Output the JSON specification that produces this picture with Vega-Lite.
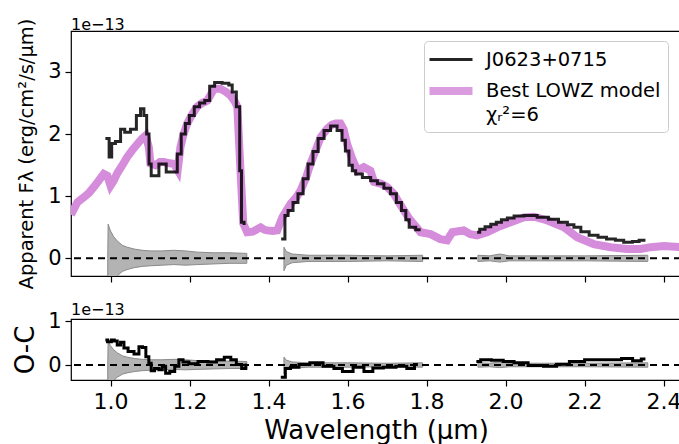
{
  "$schema": "https://vega.github.io/schema/vega-lite/v6.json",
  "padding": {"left": 12, "top": 14, "right": 0, "bottom": 0},
  "background": "white",
  "datasets": {
    "model": [
      {"w":0.900,"f":0.70},{"w":0.903,"f":0.74},{"w":0.916,"f":0.90},{"w":0.932,"f":0.98},{"w":0.945,"f":1.05},
      {"w":0.958,"f":1.15},{"w":0.970,"f":1.25},{"w":0.983,"f":1.36},{"w":0.992,"f":1.33},{"w":1.000,"f":1.17},
      {"w":1.008,"f":1.25},{"w":1.017,"f":1.37},{"w":1.030,"f":1.50},{"w":1.042,"f":1.63},{"w":1.055,"f":1.74},
      {"w":1.068,"f":1.84},{"w":1.080,"f":1.93},{"w":1.089,"f":1.98},{"w":1.097,"f":1.79},{"w":1.101,"f":1.53},
      {"w":1.114,"f":1.50},{"w":1.125,"f":1.55},{"w":1.135,"f":1.55},{"w":1.150,"f":1.53},{"w":1.161,"f":1.52},
      {"w":1.170,"f":1.42},{"w":1.177,"f":1.79},{"w":1.185,"f":2.00},{"w":1.194,"f":2.17},{"w":1.205,"f":2.30},
      {"w":1.219,"f":2.44},{"w":1.232,"f":2.50},{"w":1.245,"f":2.54},{"w":1.255,"f":2.65},{"w":1.262,"f":2.73},
      {"w":1.278,"f":2.73},{"w":1.292,"f":2.68},{"w":1.304,"f":2.62},{"w":1.315,"f":2.52},{"w":1.321,"f":2.44},
      {"w":1.329,"f":1.41},{"w":1.336,"f":0.56},{"w":1.346,"f":0.42},{"w":1.360,"f":0.43},{"w":1.371,"f":0.47},
      {"w":1.380,"f":0.50},{"w":1.390,"f":0.46},{"w":1.397,"f":0.45},{"w":1.410,"f":0.44},{"w":1.422,"f":0.45},
      {"w":1.435,"f":0.66},{"w":1.456,"f":0.88},{"w":1.470,"f":0.98},{"w":1.481,"f":1.09},{"w":1.495,"f":1.30},
      {"w":1.506,"f":1.52},{"w":1.520,"f":1.75},{"w":1.532,"f":1.95},{"w":1.549,"f":2.09},{"w":1.560,"f":2.15},
      {"w":1.570,"f":2.17},{"w":1.582,"f":2.17},{"w":1.590,"f":2.08},{"w":1.599,"f":1.84},{"w":1.612,"f":1.60},
      {"w":1.625,"f":1.41},{"w":1.641,"f":1.47},{"w":1.658,"f":1.41},{"w":1.667,"f":1.23},{"w":1.685,"f":1.20},
      {"w":1.700,"f":1.15},{"w":1.717,"f":1.04},{"w":1.730,"f":0.90},{"w":1.743,"f":0.77},{"w":1.755,"f":0.65},
      {"w":1.768,"f":0.55},{"w":1.785,"f":0.42},{"w":1.810,"f":0.39},{"w":1.835,"f":0.31},{"w":1.852,"f":0.29},
      {"w":1.865,"f":0.42},{"w":1.894,"f":0.45},{"w":1.911,"f":0.39},{"w":1.928,"f":0.37},{"w":1.953,"f":0.42},
      {"w":1.979,"f":0.50},{"w":2.013,"f":0.58},{"w":2.046,"f":0.66},{"w":2.072,"f":0.67},{"w":2.106,"f":0.61},
      {"w":2.148,"f":0.50},{"w":2.181,"f":0.34},{"w":2.223,"f":0.23},{"w":2.266,"f":0.18},{"w":2.308,"f":0.15},
      {"w":2.342,"f":0.15},{"w":2.367,"f":0.18},{"w":2.401,"f":0.20},{"w":2.444,"f":0.18}
    ],
    "obs": [
      {"seg":1,"w":0.987,"f":1.93},{"seg":1,"w":0.996,"f":1.93},{"seg":1,"w":0.997,"f":1.63},{"seg":1,"w":1.002,"f":1.63},
      {"seg":1,"w":1.004,"f":1.85},{"seg":1,"w":1.021,"f":1.88},{"seg":1,"w":1.030,"f":2.08},{"seg":1,"w":1.042,"f":2.03},
      {"seg":1,"w":1.059,"f":2.08},{"seg":1,"w":1.072,"f":2.30},{"seg":1,"w":1.080,"f":2.41},{"seg":1,"w":1.089,"f":2.30},
      {"seg":1,"w":1.094,"f":2.00},{"seg":1,"w":1.101,"f":1.52},{"seg":1,"w":1.105,"f":1.33},{"seg":1,"w":1.118,"f":1.33},
      {"seg":1,"w":1.127,"f":1.52},{"seg":1,"w":1.139,"f":1.52},{"seg":1,"w":1.143,"f":1.39},{"seg":1,"w":1.165,"f":1.39},
      {"seg":1,"w":1.173,"f":1.68},{"seg":1,"w":1.185,"f":2.00},{"seg":1,"w":1.194,"f":2.17},{"seg":1,"w":1.205,"f":2.30},
      {"seg":1,"w":1.219,"f":2.44},{"seg":1,"w":1.232,"f":2.50},{"seg":1,"w":1.245,"f":2.54},{"seg":1,"w":1.257,"f":2.77},
      {"seg":1,"w":1.270,"f":2.83},{"seg":1,"w":1.295,"f":2.82},{"seg":1,"w":1.304,"f":2.79},{"seg":1,"w":1.312,"f":2.68},
      {"seg":1,"w":1.325,"f":2.44},{"seg":1,"w":1.329,"f":1.41},{"seg":1,"w":1.334,"f":0.58},{"seg":1,"w":1.342,"f":0.56},
      {"seg":2,"w":1.432,"f":0.31},{"seg":2,"w":1.440,"f":0.31},{"seg":2,"w":1.443,"f":0.69},{"seg":2,"w":1.456,"f":0.77},
      {"seg":2,"w":1.468,"f":0.90},{"seg":2,"w":1.481,"f":1.04},{"seg":2,"w":1.494,"f":1.28},{"seg":2,"w":1.506,"f":1.52},
      {"seg":2,"w":1.519,"f":1.72},{"seg":2,"w":1.532,"f":1.93},{"seg":2,"w":1.549,"f":2.06},{"seg":2,"w":1.565,"f":2.13},
      {"seg":2,"w":1.582,"f":2.06},{"seg":2,"w":1.590,"f":1.90},{"seg":2,"w":1.599,"f":1.73},{"seg":2,"w":1.608,"f":1.50},
      {"seg":2,"w":1.616,"f":1.41},{"seg":2,"w":1.625,"f":1.36},{"seg":2,"w":1.650,"f":1.30},{"seg":2,"w":1.667,"f":1.25},
      {"seg":2,"w":1.684,"f":1.20},{"seg":2,"w":1.700,"f":1.13},{"seg":2,"w":1.717,"f":1.04},{"seg":2,"w":1.730,"f":0.90},
      {"seg":2,"w":1.743,"f":0.77},{"seg":2,"w":1.752,"f":0.62},{"seg":2,"w":1.760,"f":0.50},{"seg":2,"w":1.785,"f":0.46},
      {"seg":3,"w":1.928,"f":0.42},{"seg":3,"w":1.941,"f":0.47},{"seg":3,"w":1.955,"f":0.51},{"seg":3,"w":1.970,"f":0.55},
      {"seg":3,"w":1.983,"f":0.58},{"seg":3,"w":1.996,"f":0.62},{"seg":3,"w":2.013,"f":0.65},{"seg":3,"w":2.030,"f":0.68},
      {"seg":3,"w":2.063,"f":0.69},{"seg":3,"w":2.097,"f":0.66},{"seg":3,"w":2.120,"f":0.63},{"seg":3,"w":2.148,"f":0.58},
      {"seg":3,"w":2.165,"f":0.54},{"seg":3,"w":2.181,"f":0.50},{"seg":3,"w":2.200,"f":0.43},{"seg":3,"w":2.223,"f":0.37},
      {"seg":3,"w":2.245,"f":0.34},{"seg":3,"w":2.266,"f":0.31},{"seg":3,"w":2.290,"f":0.29},{"seg":3,"w":2.308,"f":0.26},
      {"seg":3,"w":2.334,"f":0.27},{"seg":3,"w":2.342,"f":0.29},{"seg":3,"w":2.354,"f":0.29}
    ],
    "err": [
      {"seg":1,"w":0.993,"lo":-0.70,"hi":0.00},{"seg":1,"w":0.994,"lo":-0.60,"hi":0.55},{"seg":1,"w":1.000,"lo":-0.45,"hi":0.44},
      {"seg":1,"w":1.008,"lo":-0.35,"hi":0.35},{"seg":1,"w":1.017,"lo":-0.28,"hi":0.28},{"seg":1,"w":1.030,"lo":-0.21,"hi":0.21},
      {"seg":1,"w":1.042,"lo":-0.18,"hi":0.18},{"seg":1,"w":1.060,"lo":-0.15,"hi":0.15},{"seg":1,"w":1.080,"lo":-0.13,"hi":0.13},
      {"seg":1,"w":1.100,"lo":-0.12,"hi":0.12},{"seg":1,"w":1.130,"lo":-0.11,"hi":0.12},{"seg":1,"w":1.160,"lo":-0.10,"hi":0.13},
      {"seg":1,"w":1.190,"lo":-0.11,"hi":0.12},{"seg":1,"w":1.220,"lo":-0.10,"hi":0.10},{"seg":1,"w":1.260,"lo":-0.09,"hi":0.09},
      {"seg":1,"w":1.300,"lo":-0.08,"hi":0.09},{"seg":1,"w":1.345,"lo":-0.08,"hi":0.08},
      {"seg":2,"w":1.439,"lo":-0.20,"hi":0.18},{"seg":2,"w":1.445,"lo":-0.11,"hi":0.11},{"seg":2,"w":1.460,"lo":-0.07,"hi":0.07},
      {"seg":2,"w":1.500,"lo":-0.05,"hi":0.05},{"seg":2,"w":1.600,"lo":-0.05,"hi":0.05},{"seg":2,"w":1.700,"lo":-0.04,"hi":0.04},
      {"seg":2,"w":1.790,"lo":-0.05,"hi":0.05},
      {"seg":3,"w":1.930,"lo":-0.05,"hi":0.05},{"seg":3,"w":1.960,"lo":-0.04,"hi":0.04},{"seg":3,"w":1.985,"lo":-0.06,"hi":0.07},
      {"seg":3,"w":2.010,"lo":-0.04,"hi":0.04},{"seg":3,"w":2.200,"lo":-0.04,"hi":0.04},{"seg":3,"w":2.360,"lo":-0.05,"hi":0.05}
    ],
    "res": [
      {"seg":1,"w":0.987,"r":0.57},{"seg":1,"w":0.998,"r":0.53},{"seg":1,"w":1.006,"r":0.57},{"seg":1,"w":1.013,"r":0.55},
      {"seg":1,"w":1.021,"r":0.46},{"seg":1,"w":1.030,"r":0.52},{"seg":1,"w":1.038,"r":0.39},{"seg":1,"w":1.051,"r":0.31},
      {"seg":1,"w":1.068,"r":0.25},{"seg":1,"w":1.076,"r":0.42},{"seg":1,"w":1.086,"r":0.40},{"seg":1,"w":1.093,"r":0.19},
      {"seg":1,"w":1.101,"r":0.04},{"seg":1,"w":1.105,"r":-0.13},{"seg":1,"w":1.118,"r":-0.08},{"seg":1,"w":1.127,"r":-0.11},
      {"seg":1,"w":1.135,"r":-0.03},{"seg":1,"w":1.144,"r":-0.19},{"seg":1,"w":1.156,"r":-0.15},{"seg":1,"w":1.169,"r":-0.03},
      {"seg":1,"w":1.177,"r":0.12},{"seg":1,"w":1.190,"r":0.07},{"seg":1,"w":1.207,"r":0.03},{"seg":1,"w":1.236,"r":0.08},
      {"seg":1,"w":1.257,"r":0.07},{"seg":1,"w":1.280,"r":0.12},{"seg":1,"w":1.296,"r":0.18},{"seg":1,"w":1.313,"r":0.12},
      {"seg":1,"w":1.324,"r":0.01},{"seg":1,"w":1.340,"r":-0.08},{"seg":1,"w":1.345,"r":0.00},
      {"seg":2,"w":1.431,"r":-0.28},{"seg":2,"w":1.440,"r":-0.28},{"seg":2,"w":1.445,"r":-0.08},{"seg":2,"w":1.466,"r":-0.05},
      {"seg":2,"w":1.488,"r":0.01},{"seg":2,"w":1.521,"r":0.05},{"seg":2,"w":1.555,"r":-0.03},{"seg":2,"w":1.576,"r":-0.08},
      {"seg":2,"w":1.598,"r":-0.15},{"seg":2,"w":1.630,"r":-0.05},{"seg":2,"w":1.653,"r":-0.15},{"seg":2,"w":1.675,"r":-0.07},
      {"seg":2,"w":1.706,"r":-0.05},{"seg":2,"w":1.739,"r":-0.03},{"seg":2,"w":1.761,"r":-0.08},{"seg":2,"w":1.778,"r":0.01},
      {"seg":3,"w":1.926,"r":0.08},{"seg":3,"w":1.948,"r":0.12},{"seg":3,"w":1.980,"r":0.11},{"seg":3,"w":2.008,"r":0.08},
      {"seg":3,"w":2.035,"r":0.05},{"seg":3,"w":2.079,"r":-0.01},{"seg":3,"w":2.113,"r":-0.03},{"seg":3,"w":2.145,"r":0.02},
      {"seg":3,"w":2.178,"r":0.08},{"seg":3,"w":2.222,"r":0.12},{"seg":3,"w":2.277,"r":0.12},{"seg":3,"w":2.310,"r":0.15},
      {"seg":3,"w":2.333,"r":0.10},{"seg":3,"w":2.354,"r":0.14}
    ]
  },
  "vconcat": [
    {
      "width": 610,
      "height": 245,
      "title": {"text": "1e\u221213", "anchor": "start", "frame": "group", "fontSize": 16, "fontWeight": "normal", "font": "DejaVu Sans", "offset": -18, "color": "black"},
      "layer": [
        {
          "data": {"name": "err"},
          "mark": {"type": "area", "clip": true, "color": "#b3b3b3", "stroke": "#8a8a8a", "strokeWidth": 1},
          "encoding": {
            "x": {"field": "w", "type": "quantitative", "scale": {"domain": [0.9, 2.444], "nice": false, "zero": false},
                  "axis": {"values": [1.0, 1.2, 1.4, 1.6, 1.8, 2.0, 2.2, 2.4], "labels": false, "title": null}},
            "y": {"field": "lo", "type": "quantitative", "scale": {"domain": [-0.284, 3.66], "nice": false, "zero": false},
                  "axis": {"values": [0, 1, 2, 3], "format": "d", "title": "Apparent  F\u03bb (erg/cm\u00b2/s/\u03bcm)", "titleFontSize": 19.5, "titlePadding": 11}},
            "y2": {"field": "hi"},
            "detail": {"field": "seg"}
          }
        },
        {
          "data": {"values": [{}]},
          "mark": {"type": "rule", "strokeDash": [7, 5], "strokeWidth": 2, "color": "black"},
          "encoding": {"y": {"datum": 0, "type": "quantitative"}}
        },
        {
          "data": {"name": "model"},
          "transform": [{"calculate": "'Best LOWZ model'", "as": "series"}],
          "mark": {"type": "line", "clip": true, "strokeCap": "butt"},
          "encoding": {
            "x": {"field": "w", "type": "quantitative"},
            "y": {"field": "f", "type": "quantitative"},
            "color": {"field": "series", "type": "nominal",
                      "scale": {"domain": ["J0623+0715", "Best LOWZ model"], "range": ["black", "#d58ddb"]},
                      "legend": {"title": null, "labelExpr": "datum.label == 'Best LOWZ model' ? ['Best LOWZ model', '\u03c7\u1d63\u00b2=6'] : datum.label"}},
            "strokeWidth": {"field": "series", "type": "nominal",
                      "scale": {"domain": ["J0623+0715", "Best LOWZ model"], "range": [3, 8]},
                      "legend": {"title": null, "labelExpr": "datum.label == 'Best LOWZ model' ? ['Best LOWZ model', '\u03c7\u1d63\u00b2=6'] : datum.label"}}
          }
        },
        {
          "data": {"name": "obs"},
          "transform": [{"calculate": "'J0623+0715'", "as": "series"}],
          "mark": {"type": "line", "clip": true, "interpolate": "step", "opacity": 0.85},
          "encoding": {
            "x": {"field": "w", "type": "quantitative"},
            "y": {"field": "f", "type": "quantitative"},
            "detail": {"field": "seg"},
            "color": {"field": "series", "type": "nominal"},
            "strokeWidth": {"field": "series", "type": "nominal"}
          }
        }
      ]
    },
    {
      "width": 610,
      "height": 61,
      "title": {"text": "1e\u221213", "anchor": "start", "frame": "group", "fontSize": 16, "fontWeight": "normal", "font": "DejaVu Sans", "offset": -8, "color": "black"},
      "layer": [
        {
          "data": {"name": "err"},
          "mark": {"type": "area", "clip": true, "color": "#b3b3b3", "stroke": "#8a8a8a", "strokeWidth": 1},
          "encoding": {
            "x": {"field": "w", "type": "quantitative", "scale": {"domain": [0.9, 2.444], "nice": false, "zero": false},
                  "axis": {"values": [1.0, 1.2, 1.4, 1.6, 1.8, 2.0, 2.2, 2.4], "format": ".1f", "labelFontSize": 22, "labelPadding": 5, "title": "Wavelength (\u03bcm)", "titleFontSize": 26, "titlePadding": 5}},
            "y": {"field": "lo", "type": "quantitative", "scale": {"domain": [-0.343, 1.053], "nice": false, "zero": false},
                  "axis": {"values": [0, 1], "format": "d", "title": "O-C", "titleFontSize": 26, "titlePadding": 9}},
            "y2": {"field": "hi"},
            "detail": {"field": "seg"}
          }
        },
        {
          "data": {"values": [{}]},
          "mark": {"type": "rule", "strokeDash": [7, 5], "strokeWidth": 2, "color": "black"},
          "encoding": {"y": {"datum": 0, "type": "quantitative"}}
        },
        {
          "data": {"name": "res"},
          "mark": {"type": "line", "clip": true, "interpolate": "step", "color": "black", "strokeWidth": 3},
          "encoding": {
            "x": {"field": "w", "type": "quantitative"},
            "y": {"field": "r", "type": "quantitative"},
            "detail": {"field": "seg"}
          }
        }
      ]
    }
  ],
  "spacing": 8,
  "config": {
    "font": "DejaVu Sans",
    "view": {"stroke": "black", "strokeWidth": 1.2},
    "style": {"guide-label": {"lineHeight": 24}},
    "axis": {
      "labelFont": "DejaVu Sans", "labelFontSize": 21, "labelColor": "black",
      "titleFont": "DejaVu Sans", "titleFontWeight": "normal", "titleColor": "black",
      "tickColor": "black", "tickSize": 6, "tickWidth": 1.2, "domain": false,
      "grid": false, "labelPadding": 4
    },
    "legend": {
      "orient": "none", "legendX": 353, "legendY": 10,
      "symbolType": "M-1.55,0L2.75,0", "symbolSize": 400,
      "labelFont": "DejaVu Sans", "labelFontSize": 19.5, "labelColor": "black", "labelLimit": 300,
      "labelOffset": 27, "rowPadding": 6, "padding": 7,
      "fillColor": "white", "strokeColor": "#cccccc", "cornerRadius": 4
    }
  }
}
